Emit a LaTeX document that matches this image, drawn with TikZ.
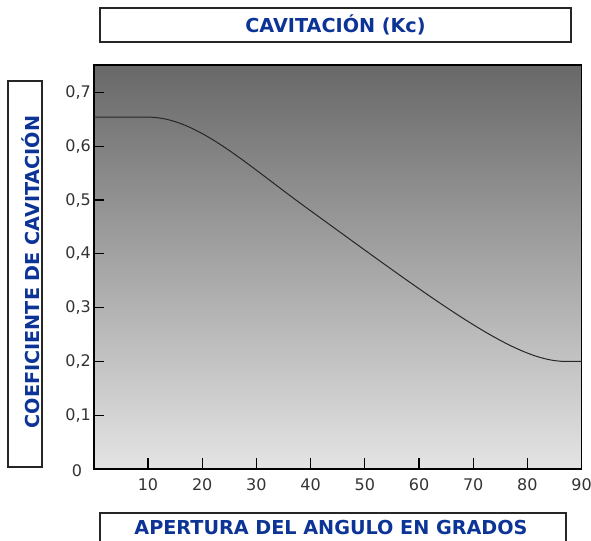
\documentclass[tikz,border=0pt]{standalone}
\usepackage{fontspec}
\setmainfont{DejaVu Sans}
\usepackage{tikz}
\usetikzlibrary{calc}
\definecolor{titleblue}{RGB}{12,52,150}
\definecolor{plottop}{RGB}{104,104,104}
\definecolor{plotbottom}{RGB}{228,228,228}

\begin{document}
\begin{tikzpicture}[x=0.75pt,y=-0.75pt]
    \useasboundingbox (0,0) rectangle (591,541);

    \begin{scope}[every node/.style={draw=black!85,line width=0.8pt,inner sep=0pt,
        text=titleblue,font=\fontsize{14.4}{16}\selectfont\bfseries}]
        \node[minimum width=353.25pt,minimum height=25.5pt] (title) at (335.5,25) {CAVITACIÓN (Kc)};
        \node[minimum width=25.5pt,minimum height=289.5pt] (ybox) at (25,274) {};
        \node[minimum width=349.5pt,minimum height=35.25pt] (xbox) at (333,536.5) {};
    \end{scope}

    \begin{scope}[every node/.style={inner sep=0pt,text=titleblue,
        font=\fontsize{14.4}{16}\selectfont\bfseries}]
        \node[rotate=90] (ylabel) at (31,272) {COEFICIENTE DE CAVITACIÓN};
        \node (xlabel) at (331,528) {APERTURA DEL ANGULO EN GRADOS};
    \end{scope}

    \begin{scope}[shift={(93.8,469)},x=4.065pt,y=403.5pt,
        every node/.style={inner sep=0pt,text=black!80,font=\fontsize{12}{14}\selectfont}]
        \shade[top color=plottop,bottom color=plotbottom] (0,0) rectangle (90,0.75);
        \draw[line width=0.8pt] (90,0) -- (90,0.75);
        \draw[line width=1.5pt] (90,0.75) -- (0,0.75) -- (0,0) -- (90,0);

        \foreach \k in {1,...,7} {
            \draw[line width=0.9pt] (0,\k/10) -- ++(7.5pt,0pt);
            \node[anchor=east] (ytick\k) at (-0.5,\k/10) {0,\k};
        }
        \node (ytick0) at (-3.1,-0.003) {0};

        \foreach \k in {1,...,8}
            \draw[line width=0.9pt] (\k*10,0) -- ++(0pt,8.25pt);
        \foreach \k in {1,...,9}
            \node (xtick\k) at (\k*10,-0.03) {\k0};

        \draw[black!85,line width=0.75pt] (0,0.654) -- (10,0.654)
            .. controls (19,0.654) and (28,0.567) .. (40,0.48)
            .. controls (65,0.297) and (78,0.2) .. (87,0.2) -- (90,0.2);
    \end{scope}
\end{tikzpicture}
\end{document}
